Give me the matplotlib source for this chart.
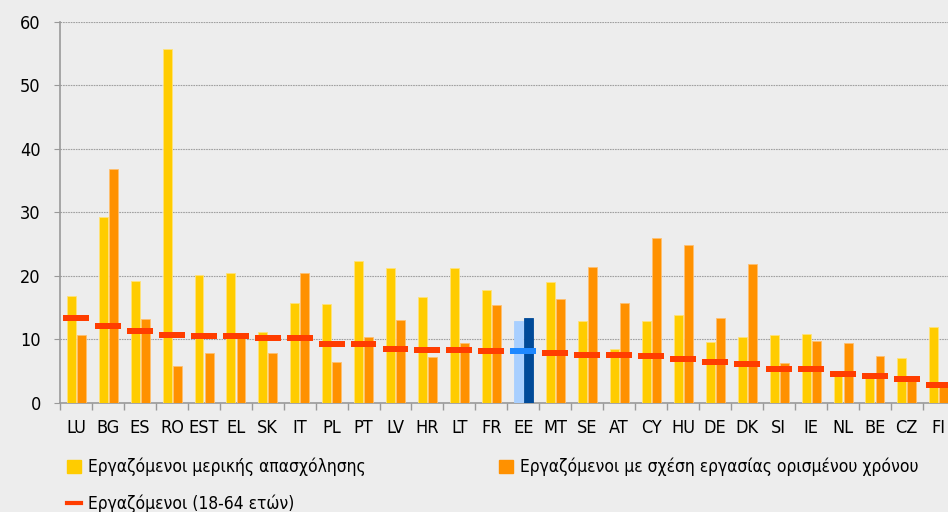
import matplotlib.pyplot as plt
import matplotlib.patches as mpatches
from matplotlib.lines import Line2D
import numpy as np

plt.rcParams['font.family'] = ['DejaVu Sans']
plt.rcParams['font.stretch'] = 'condensed'

# Δεδομένα (%)
countries = ["LU", "BG", "ES", "RO", "EST", "EL", "SK", "IT", "PL", "PT", "LV", "HR", "LT", "FR",
             "EE", "MT", "SE", "AT", "CY", "HU", "DE", "DK", "SI", "IE", "NL", "BE", "CZ", "FI"]
part_time = [16.8, 29.2, 19.2, 55.7, 20.1, 20.5, 11.2, 15.7, 15.6, 22.3, 21.3, 16.6, 21.3, 17.8,
             12.9, 19.0, 12.9, 8.4, 12.8, 13.8, 9.6, 10.3, 10.6, 10.8, 4.5, 4.2, 7.0, 12.0]
temporary = [10.7, 36.9, 13.2, 5.8, 7.8, 10.3, 7.8, 20.4, 6.4, 10.3, 13.0, 7.2, 9.4, 15.4,
             13.3, 16.3, 21.4, 15.7, 26.0, 24.8, 13.4, 21.8, 6.2, 9.7, 9.4, 7.3, 3.6, 2.7]
employed = [13.4, 12.1, 11.3, 10.7, 10.5, 10.5, 10.2, 10.2, 9.3, 9.3, 8.5, 8.3, 8.3, 8.2,
            8.2, 7.85, 7.55, 7.55, 7.4, 6.9, 6.45, 6.1, 5.3, 5.3, 4.55, 4.25, 3.75, 2.8]

highlight = "EE"

YELLOW = "#FFCC00"
ORANGE = "#FF9100"
RED = "#FF3D00"
BG = "#EDEDED"

fig = plt.figure(figsize=(9.48, 5.12), dpi=100, facecolor=BG)
ax = fig.add_axes([60 / 948, 1 - 402.7 / 512, 894.6 / 948, 380.7 / 512])
ax.set_facecolor(BG)

x = np.arange(len(countries))
yc = [("#A8CFFF" if c == highlight else YELLOW) for c in countries]
oc = [("#004A99" if c == highlight else ORANGE) for c in countries]
rc = [("#1E88FF" if c == highlight else RED) for c in countries]

ax.bar(x - 0.15, part_time, width=0.28, color=yc, edgecolor="#FFE27A", linewidth=0.6, zorder=3)
ax.bar(x + 0.165, temporary, width=0.28, color=oc, edgecolor="#FFC070", linewidth=0.6, zorder=3)
for i, c in enumerate(countries):
    if c == highlight:
        ax.patches[i].set_edgecolor(yc[i])
        ax.patches[len(countries) + i].set_edgecolor(oc[i])

# κόκκινες παύλες
h = 0.9
ax.bar(x, [h] * len(x), bottom=[v - h / 2 for v in employed], width=0.81, color=rc, zorder=4)

ax.set_xlim(-0.5, len(countries) - 0.5)
ax.set_ylim(0, 60)
ax.set_yticks(range(0, 61, 10))
ax.set_xticks(np.arange(-0.5, len(countries), 1), minor=False)
ax.set_xticklabels([])
ax.set_xticks(x, minor=True)
ax.set_xticklabels(countries, minor=True, fontsize=13)
ax.tick_params(axis="x", which="minor", length=0, pad=12)
ax.tick_params(axis="x", which="major", length=4.8, color="#999999", width=1)
ax.tick_params(axis="y", length=4.3, color="#999999", labelsize=13, pad=9.5)

ax.grid(axis="y", color="#A0A0A0", linestyle=(0, (1.5, 0.8)), linewidth=0.8, zorder=0)
for s in ["top", "right"]:
    ax.spines[s].set_visible(False)
for s in ["left", "bottom"]:
    ax.spines[s].set_color("#999999")
    ax.spines[s].set_linewidth(1.2)

leg_kw = dict(loc="upper left", frameon=False, fontsize=12.5, handlelength=0.8, handleheight=0.8,
              handletextpad=0.4, labelspacing=1.05, borderaxespad=0, borderpad=0)
h1 = [mpatches.Patch(color=YELLOW, label="Εργαζόμενοι μερικής απασχόλησης"),
      Line2D([], [], color=RED, lw=3, label="Εργαζόμενοι (18-64 ετών)")]
h2 = [mpatches.Patch(color=ORANGE, label="Εργαζόμενοι με σχέση εργασίας ορισμένου χρόνου")]
fig.legend(handles=h1, bbox_to_anchor=(67 / 948, 1 - 458 / 512), **leg_kw)
fig.legend(handles=h2, bbox_to_anchor=(499 / 948, 1 - 458 / 512), **leg_kw)

fig.savefig("out.png", dpi=100, facecolor=BG)
